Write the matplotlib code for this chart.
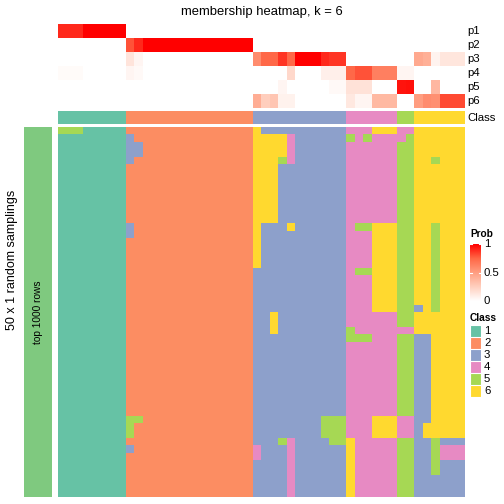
import numpy as np
import matplotlib
matplotlib.use('Agg')
import matplotlib.pyplot as plt
from matplotlib.colors import ListedColormap, LinearSegmentedColormap
import matplotlib.patches as mpatches

plt.rcParams['font.family'] = ['Liberation Sans', 'DejaVu Sans']

W, H = 504, 504

CLASS_COLORS = ['#66C2A5', '#FC8D62', '#8DA0CB', '#E78AC3', '#A6D854', '#FFD92F']
STRIP_COLOR = '#7FC97F'
prob_cmap = LinearSegmentedColormap.from_list(
    'prob', [(0, '#ffffff'), (0.25, '#ffcfbe'), (0.5, '#ff9e81'),
             (0.75, '#ff6746'), (1, '#ff0000')])

# ---- data -------------------------------------------------------------
prob_labels = ['p1', 'p2', 'p3', 'p4', 'p5', 'p6']
class_labels = ['1', '2', '3', '4', '5', '6']

# consensus class of each of the 48 columns
col_class = "11111111" "222222222222222" "33333333333" "444444" "55" "666666"

# membership probabilities, groups of columns follow the class blocks
p1 = [0.90, 0.90, 0.90, 1, 1, 1, 1, 1,
      0, 0, 0, 0, 0, 0, 0, 0, 0, 0, 0, 0, 0, 0, 0,
      0, 0, 0, 0, 0, 0, 0, 0, 0, 0, 0,
      0, 0, 0, 0, 0, 0,
      0, 0,
      0, 0, 0, 0, 0, 0]
p2 = [0, 0, 0, 0, 0, 0, 0, 0,
      0.80, 0.90, 1, 1, 1, 1, 1, 1, 1, 1, 1, 1, 1, 1, 1,
      0, 0, 0, 0, 0, 0, 0, 0, 0, 0, 0,
      0, 0, 0, 0, 0, 0,
      0, 0,
      0, 0, 0, 0, 0, 0]
p3 = [0, 0, 0, 0, 0, 0, 0, 0,
      0.14, 0.05, 0, 0, 0, 0, 0, 0, 0, 0, 0, 0, 0, 0, 0,
      0.58, 0.74, 0.74, 0.87, 0.74, 1, 1, 1, 0.90, 0.87, 0.87,
      0, 0, 0, 0, 0, 0,
      0, 0,
      0.44, 0.41, 0.06, 0.13, 0.13, 0.13]
p4 = [0.02, 0.02, 0.02, 0, 0, 0, 0, 0,
      0.05, 0.03, 0, 0, 0, 0, 0, 0, 0, 0, 0, 0, 0, 0, 0,
      0, 0, 0, 0, 0.20, 0, 0, 0, 0.08, 0.08, 0.08,
      0.74, 0.80, 0.80, 0.64, 0.64, 0.64,
      0.05, 0.05,
      0, 0, 0, 0, 0, 0]
p5 = [0, 0, 0, 0, 0, 0, 0, 0,
      0, 0, 0, 0, 0, 0, 0, 0, 0, 0, 0, 0, 0, 0, 0,
      0, 0, 0, 0.05, 0, 0, 0, 0, 0, 0.03, 0.03,
      0.15, 0.15, 0.15, 0, 0, 0,
      0.95, 0.96,
      0, 0, 0.37, 0, 0, 0]
p6 = [0, 0, 0, 0, 0, 0, 0, 0,
      0, 0, 0, 0, 0, 0, 0, 0, 0, 0, 0, 0, 0, 0, 0,
      0.42, 0.25, 0.30, 0.07, 0.07, 0, 0, 0, 0, 0, 0,
      0.12, 0.05, 0.05, 0.36, 0.36, 0.36,
      0, 0,
      0.50, 0.58, 0.56, 0.82, 0.82, 0.82]

# class assigned in each of the 50 random samplings (rows) x 48 columns
membership = [
    "55511111 222222222222222 63333333333 444666 44 666666",
    "11111111 322222222222222 66664333333 545444 45 666666",
    "11111111 332222222222222 66664333333 444444 55 666666",
    "11111111 332222222222222 66664333333 444444 55 666666",
    "11111111 322222222222222 66654333333 444444 55 665666",
    "11111111 222222222222222 66633333333 444444 55 666666",
    "11111111 222222222222222 66633333333 444444 55 666666",
    "11111111 222222222222222 66633333333 444444 55 666666",
    "11111111 222222222222222 66633333333 444444 55 666666",
    "11111111 222222222222222 66633333333 444444 55 666666",
    "11111111 222222222222222 66633333333 444444 55 666666",
    "11111111 222222222222222 66633333333 444444 55 666666",
    "11111111 222222222222222 66633333333 444444 55 666666",
    "11111111 322222222222222 63336333333 455666 55 665666",
    "11111111 322222222222222 63333333333 444666 55 665666",
    "11111111 222222222222222 63333333333 444666 55 665666",
    "11111111 222222222222222 63333333333 444666 55 665666",
    "11111111 222222222222222 63333333333 444666 55 665666",
    "11111111 222222222222222 63333333333 444666 55 665666",
    "11111111 222222222222222 33333333333 455666 55 665666",
    "11111111 222222222222222 33333333333 444666 55 665666",
    "11111111 222222222222222 33333333333 444666 55 665666",
    "11111111 222222222222222 33333333333 444666 55 665666",
    "11111111 222222222222222 33333333333 444666 55 665666",
    "11111111 222222222222222 33333333333 444666 55 365666",
    "11111111 222222222222222 33633333333 444444 55 666666",
    "11111111 222222222222222 33633333333 444444 55 666666",
    "11111111 222222222222222 33633333333 544444 44 666666",
    "11111111 222222222222222 33333333333 555444 55 336666",
    "11111111 222222222222222 33333333333 444444 55 336666",
    "11111111 222222222222222 33333333333 444444 55 336666",
    "11111111 222222222222222 33333333333 444444 55 336666",
    "11111111 222222222222222 33333333333 444444 55 336666",
    "11111111 222222222222222 33333333333 444444 55 336666",
    "11111111 222222222222222 33333333333 444444 55 336666",
    "11111111 222222222222222 33333333333 444444 55 336666",
    "11111111 222222222222222 33333333333 444444 55 336666",
    "11111111 222222222222222 33333333333 444444 55 336666",
    "11111111 222222222222222 33333333333 444444 55 336666",
    "11111111 552222222222222 33333333555 444666 44 336666",
    "11111111 522222222222222 33333333555 444666 44 366666",
    "11111111 522222222222222 33333333555 444666 44 366666",
    "11111111 222222222222222 33354333355 644444 55 335333",
    "11111111 322222222222222 43334333333 644444 55 335444",
    "11111111 222222222222222 43334333333 644444 55 335444",
    "11111111 222222222222222 33334333333 644444 55 335333",
    "11111111 222222222222222 33334333333 644444 55 335333",
    "11111111 222222222222222 33334333333 644444 55 333333",
    "11111111 222222222222222 33334333333 644444 55 333333",
    "11111111 222222222222222 33334333333 644444 55 333333",
]

LABEL_FS = 8.2
TITLE_FS = 7.3


def px_axes(fig, x0, y0, x1, y1):
    """Axes from pixel box (top-left origin)."""
    ax = fig.add_axes([x0 / W, 1 - y1 / H, (x1 - x0) / W, (y1 - y0) / H])
    ax.set_axis_off()
    return ax


fig = plt.figure(figsize=(W / 100, H / 100), dpi=100)
fig.patch.set_facecolor('white')

class_cmap = ListedColormap(CLASS_COLORS)
mat = np.array([[int(c) for c in row.replace(' ', '')] for row in membership])
probs = np.array([p1, p2, p3, p4, p5, p6])
cls = np.array([[int(c) for c in col_class]])

X0, X1 = 58, 465

# prob annotation
ax = px_axes(fig, X0, 24, X1, 108)
ax.imshow(probs, cmap=prob_cmap, vmin=0, vmax=1, aspect='auto', interpolation='nearest')

# class annotation bar
ax = px_axes(fig, X0, 110.5, X1, 124.5)
ax.imshow(cls, cmap=class_cmap, vmin=0.5, vmax=6.5, aspect='auto', interpolation='nearest')

# main membership heatmap
ax = px_axes(fig, X0, 127, X1, 497)
ax.imshow(mat, cmap=class_cmap, vmin=0.5, vmax=6.5, aspect='auto', interpolation='nearest')

# left row-slice strip
ax = px_axes(fig, 24, 127, 52, 497)
ax.add_patch(mpatches.Rectangle((0, 0), 1, 1, color=STRIP_COLOR))
ax.set_xlim(0, 1)
ax.set_ylim(0, 1)
ax.text(0.5, 0.5, 'top 1000 rows', rotation=90, ha='center', va='center', fontsize=7.3)

fig.text(12 / W, 1 - 260 / H, '50 x 1 random samplings', rotation=90,
         ha='center', va='center', fontsize=9)
fig.text(261.5 / W, 1 - 12 / H, 'membership heatmap, k = 6',
         ha='center', va='center', fontsize=9.4)

# annotation names
for i, lab in enumerate(prob_labels):
    fig.text(467 / W, 1 - (31 + 14 * i) / H, lab, ha='left', va='center', fontsize=LABEL_FS)
fig.text(467 / W, 1 - 117.5 / H, 'Class', ha='left', va='center', fontsize=LABEL_FS)

# Prob legend
fig.text(470 / W, 1 - 234 / H, 'Prob', ha='left', va='center', fontsize=TITLE_FS, fontweight='bold')
cb_top, cb_bot = 244, 301
ax = px_axes(fig, 470, cb_top, 481, cb_bot)
grad = np.linspace(1, 0, 200).reshape(-1, 1)
ax.imshow(grad, cmap=prob_cmap, vmin=0, vmax=1, aspect='auto', extent=(0, 1, 0, 1))
ax.set_xlim(0, 1)
ax.set_ylim(0, 1)
for v in [0, 0.5, 1]:
    ax.plot([0, 0.2], [v, v], color='white', lw=0.8)
    ax.plot([0.8, 1], [v, v], color='white', lw=0.8)
for v, lab in [(1, '1'), (0.5, '0.5'), (0, '0')]:
    y = cb_bot - v * (cb_bot - cb_top)
    fig.text(484 / W, 1 - y / H, lab, ha='left', va='center', fontsize=LABEL_FS)

# Class legend
fig.text(470 / W, 1 - 318 / H, 'Class', ha='left', va='center', fontsize=TITLE_FS, fontweight='bold')
box_h = 12
for i, lab in enumerate(class_labels):
    y0 = 325 + box_h * i
    ax = px_axes(fig, 470, y0, 481, y0 + box_h)
    ax.add_patch(mpatches.Rectangle((0, 0), 1, 1, facecolor=CLASS_COLORS[i],
                                    edgecolor='white', lw=0.8))
    ax.set_xlim(0, 1)
    ax.set_ylim(0, 1)
    fig.text(484 / W, 1 - (y0 + box_h / 2) / H, lab, ha='left', va='center', fontsize=LABEL_FS)

fig.savefig('out.png', dpi=100)
plt.close(fig)
